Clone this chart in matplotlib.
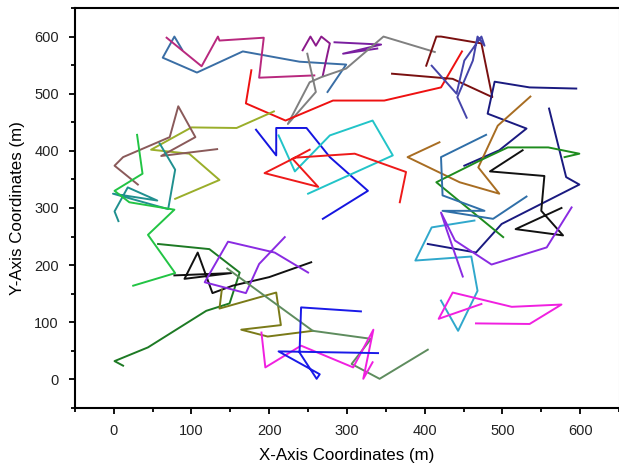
import matplotlib.pyplot as plt
from matplotlib.ticker import MultipleLocator

plt.rcParams['font.family'] = ['Liberation Sans', 'DejaVu Sans']

# trajectories (x, y in m)
t01_x = [88, 78, 63, 107, 166, 239, 299, 275]
t01_y = [577, 600, 563, 537, 574, 556, 551, 503]
t02_x = [68, 113, 134, 136, 193, 187, 258]
t02_y = [598, 548, 600, 593, 598, 528, 532]
t03_x = [243, 253, 260, 267, 278, 275, 269]
t03_y = [576, 600, 584, 600, 588, 570, 532]
t04_x = [284, 344, 295, 339]
t04_y = [590, 586, 570, 579]
t05_x = [249, 260, 224, 252, 267, 299, 347, 413]
t05_y = [570, 503, 447, 520, 529, 544, 600, 573]
t06_x = [177, 170, 221, 282, 348, 421, 448]
t06_y = [541, 483, 453, 488, 488, 511, 574]
t07_x = [358, 436, 487, 473, 421, 415, 402]
t07_y = [535, 526, 494, 588, 600, 600, 549]
t08_x = [409, 441, 451, 473, 477, 468, 462, 442, 454]
t08_y = [549, 500, 558, 600, 584, 600, 558, 494, 458]
t09_x = [595, 535, 490, 481, 531, 496, 451]
t09_y = [509, 511, 521, 465, 439, 401, 374]
t10_x = [560, 582, 599, 499, 466, 404]
t10_y = [474, 354, 341, 272, 222, 237]
t11_x = [536, 494, 469, 496, 445, 378, 419]
t11_y = [495, 444, 371, 325, 345, 389, 415]
t12_x = [580, 599, 559, 507, 471, 415, 501]
t12_y = [389, 395, 406, 406, 383, 345, 249]
t13_x = [526, 484, 554, 550, 578, 517, 576]
t13_y = [401, 364, 356, 295, 252, 263, 300]
t14_x = [479, 421, 423, 477, 423, 488, 531]
t14_y = [428, 389, 322, 295, 295, 281, 320]
t15_x = [183, 209, 209, 248, 278, 327, 269]
t15_y = [437, 392, 440, 440, 389, 330, 281]
t16_x = [212, 233, 278, 333, 359, 250]
t16_y = [427, 364, 427, 453, 392, 325]
t17_x = [252, 230, 263, 194, 233, 310, 376, 368]
t17_y = [402, 386, 337, 361, 388, 395, 363, 310]
t18_x = [206, 158, 100, 48, 97, 136, 79]
t18_y = [469, 440, 441, 402, 395, 349, 316]
t19_x = [133, 61, 105, 83, 72, 12, 1, 31]
t19_y = [403, 391, 424, 478, 424, 389, 374, 341]
t20_x = [59, 79, 70, -1, 56, 18, 1, 6]
t20_y = [413, 367, 298, 325, 313, 336, 294, 277]
t21_x = [30, 37, 1, 20, 78, 44, 79, 25]
t21_y = [428, 360, 330, 310, 297, 253, 186, 164]
t22_x = [12, 1, 44, 85, 119, 149, 162, 123, 57]
t22_y = [24, 32, 56, 91, 120, 133, 187, 228, 237]
t23_x = [78, 151, 91, 108, 127, 153, 200, 254]
t23_y = [182, 186, 176, 222, 151, 164, 179, 205]
t24_x = [220, 187, 170, 117, 147, 207, 250]
t24_y = [249, 202, 151, 170, 241, 222, 187]
t25_x = [139, 136, 209, 215, 164, 198, 256]
t25_y = [157, 124, 152, 95, 87, 75, 85]
t26_x = [146, 256, 331, 306, 342, 404]
t26_y = [194, 85, 71, 27, 1, 52]
t27_x = [190, 195, 241, 308, 334, 321, 333]
t27_y = [82, 21, 59, 21, 87, 1, 30]
t28_x = [318, 241, 239, 261, 265, 212, 340]
t28_y = [119, 126, 47, 1, 9, 49, 46]
t29_x = [464, 409, 388, 460, 468, 443, 421]
t29_y = [278, 266, 208, 215, 155, 85, 138]
t30_x = [589, 557, 486, 439, 421, 428, 449]
t30_y = [301, 231, 201, 243, 292, 263, 180]
t31_x = [473, 418, 436, 512, 576, 535, 466]
t31_y = [132, 106, 152, 127, 131, 97, 98]

tracks = [
    (t01_x, t01_y, '#3a6ea5'), (t02_x, t02_y, '#b8287e'),
    (t03_x, t03_y, '#8b1a8b'), (t04_x, t04_y, '#7a1fa0'),
    (t05_x, t05_y, '#808080'), (t06_x, t06_y, '#ee1111'),
    (t07_x, t07_y, '#7a1010'), (t08_x, t08_y, '#4444aa'),
    (t09_x, t09_y, '#1a1a80'), (t10_x, t10_y, '#1a1a80'),
    (t11_x, t11_y, '#a86d22'), (t12_x, t12_y, '#1e8c1e'),
    (t13_x, t13_y, '#111111'), (t14_x, t14_y, '#2f6fa8'),
    (t15_x, t15_y, '#1515e0'), (t16_x, t16_y, '#22c4c8'),
    (t17_x, t17_y, '#ee1a1a'), (t18_x, t18_y, '#9aae2a'),
    (t19_x, t19_y, '#8a5a5a'), (t20_x, t20_y, '#20908f'),
    (t21_x, t21_y, '#22c444'), (t22_x, t22_y, '#1d7a24'),
    (t23_x, t23_y, '#111111'), (t24_x, t24_y, '#8a2be2'),
    (t25_x, t25_y, '#7a7a18'), (t26_x, t26_y, '#5e8c5e'),
    (t27_x, t27_y, '#f020e0'), (t28_x, t28_y, '#1a1ae8'),
    (t29_x, t29_y, '#30a8cc'), (t30_x, t30_y, '#8a2be2'),
    (t31_x, t31_y, '#f020e0'),
]

fig = plt.figure(figsize=(6.19, 4.70), dpi=100)
ax = fig.add_axes([0.121, 0.132, 0.879, 0.851])

for xs, ys, c in tracks:
    ax.plot(xs, ys, color=c, lw=1.4)

ax.set_xlim(-50, 650)
ax.set_ylim(-50, 650)
ax.xaxis.set_major_locator(MultipleLocator(100))
ax.xaxis.set_minor_locator(MultipleLocator(50))
ax.yaxis.set_major_locator(MultipleLocator(100))
ax.yaxis.set_minor_locator(MultipleLocator(50))
ax.set_xticks([0, 100, 200, 300, 400, 500, 600])
ax.set_yticks([0, 100, 200, 300, 400, 500, 600])

for s in ['left', 'bottom', 'top']:
    ax.spines[s].set_linewidth(1.5)
ax.spines['right'].set_color('#cccccc')
ax.spines['right'].set_linewidth(0.8)

ax.tick_params(which='major', direction='out', length=4, width=1.3,
               labelsize=10.5, pad=7.5, top=False, right=False,
               labelcolor='#222222')
ax.tick_params(which='minor', direction='out', length=3, width=1.3,
               top=False, right=False)

ax.set_xlabel('X-Axis Coordinates (m)', fontsize=12.2, labelpad=7)
ax.set_ylabel('Y-Axis Coordinates (m)', fontsize=12.2, labelpad=7)

fig.savefig('out.png', dpi=100)
